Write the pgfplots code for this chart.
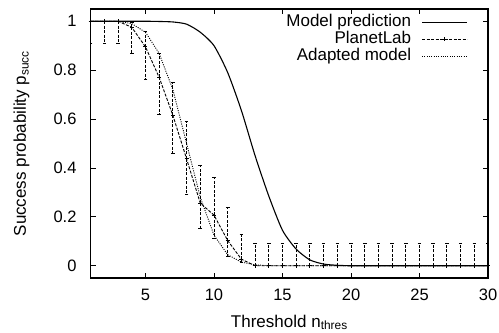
\documentclass[border=0pt]{standalone}
\usepackage{fontspec}
\setmainfont{Liberation Sans}
\usepackage{pgfplots}
\usepackage{pgfplotstable}
\pgfplotsset{compat=1.18}
\pgfplotstableread{
x y ep em
1 1 0 0.09
2 1 0 0.09
3 1 0 0.09
4 0.975 0.02 0.105
5 0.895 0.065 0.135
6 0.77 0.098 0.15
7 0.615 0.135 0.155
8 0.437 0.152 0.147
9 0.256 0.154 0.105
10 0.207 0.153 0.095
11 0.103 0.137 0.063
12 0.027 0.103 0.014
13 0 0.09 0
14 0 0.09 0
15 0 0.09 0
16 0 0.09 0
17 0 0.09 0
18 0 0.09 0
19 0 0.09 0
20 0 0.09 0
21 0 0.09 0
22 0 0.09 0
23 0 0.09 0
24 0 0.09 0
25 0 0.09 0
26 0 0.09 0
27 0 0.09 0
28 0 0.09 0
29 0 0.09 0
30 0 0.09 0
}\planetlab
\pgfplotstableread{
x y
1 1
2 1
3 1
4 1
5 1
6 0.999
7 0.997
8 0.988
9 0.955
10 0.90
11 0.79
12 0.635
13 0.45
14 0.285
15 0.145
16 0.068
17 0.024
18 0.007
19 0.002
20 0
21 0
22 0
23 0
24 0
25 0
26 0
27 0
28 0
29 0
30 0
}\model
\pgfplotstableread{
x y
1 1
2 1
3 1
4 0.99
5 0.955
6 0.868
7 0.72
8 0.5
9 0.28
10 0.125
11 0.045
12 0.015
13 0.004
14 0
15 0
16 0
17 0
18 0
19 0
20 0
21 0
22 0
23 0
24 0
25 0
26 0
27 0
28 0
29 0
30 0
}\adapted
\begin{document}
\fontsize{17bp}{20bp}\selectfont
\begin{tikzpicture}
\useasboundingbox (-90.7bp,-55bp) rectangle (408.3bp,278bp);
\begin{axis}[
  at={(0,0)}, anchor=south west,
  scale only axis, width=397.3bp, height=269bp,
  xmin=1, xmax=30, ymin=-0.05, ymax=1.05,
  xtick={5,10,15,20,25,30}, ytick={0,0.2,0.4,0.6,0.8,1},
  tick align=inside, major tick length=5bp,
  axis line style={line width=1.1bp},
  every tick/.style={line width=0.8bp, black},
  /pgf/number format/assume math mode=true,
  tick label style={font=\fontsize{16.5bp}{19bp}\selectfont},
  xticklabel style={anchor=base, inner sep=0pt, yshift=-22.5bp},
  yticklabel style={anchor=east, inner sep=0pt, xshift=-14bp},
  xlabel={Threshold n\textsubscript{thres}},
  ylabel={Success probability p\textsubscript{succ}},
  label style={font=\fontsize{17bp}{20bp}\selectfont},
  xlabel style={at={(axis description cs:0.5,-0.1822)}, anchor=base, inner sep=0pt},
  ylabel style={at={(axis description cs:-0.174,0.5)}, anchor=center, inner sep=0pt},
  legend style={draw=none, fill=none, at={(axis description cs:0.949,0.982)}, anchor=north east,
    inner sep=0pt, outer sep=0pt, row sep=0pt, column sep=10bp,
    font=\fontsize{17bp}{20bp}\selectfont,
    nodes={inner sep=0.5bp, text height=12.5bp, text depth=3.5bp}},
  legend cell align=right, legend plot pos=right,
  legend image code/.code={\draw[mark repeat=2,mark phase=2,#1] plot coordinates {(0bp,0bp)(22.5bp,0bp)(45bp,0bp)};},
]
\addplot[black, line width=1.1bp, smooth, tension=0.4] table[x=x,y=y] {\model};
\addlegendentry{Model prediction}
\addplot[black, line width=0.9bp, dash pattern=on 3bp off 1.5bp, mark=+, mark size=2bp, mark options={solid},
  error bars/.cd, y dir=both, y explicit,
  error bar style={line width=1bp, dash pattern=on 3bp off 1.5bp},
  error mark options={rotate=90, mark size=1.8bp, solid, line width=0.9bp}]
  table[x=x,y=y,y error plus=ep,y error minus=em] {\planetlab};
\addlegendentry{PlanetLab}
\addplot[black, line width=0.9bp, dash pattern=on 1bp off 1.3bp] table[x=x,y=y] {\adapted};
\addlegendentry{Adapted model}
\end{axis}
\end{tikzpicture}
\end{document}
